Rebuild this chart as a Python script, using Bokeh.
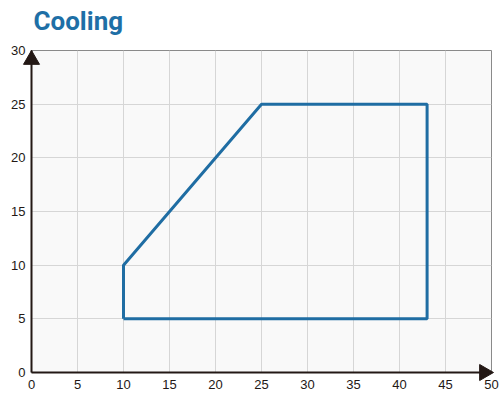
import math
from bokeh.plotting import figure
from bokeh.models import FixedTicker, Range1d
from bokeh.core.properties import value
from bokeh.embed import file_html
from bokeh.resources import INLINE

# data
title_text = "Cooling"
x_vals = [10, 10, 25, 43, 43, 10]
y_vals = [5, 10, 25, 25, 5, 5]
x_ticks = [0, 5, 10, 15, 20, 25, 30, 35, 40, 45, 50]
y_ticks = [0, 5, 10, 15, 20, 25, 30]
x_max = 50
y_max = 30

AXIS = "#231815"
BLUE = "#1f6da3"

W, H = 500, 396
BL, BR, BT, BB = 31, 9, 50, 24

p = figure(width=W, height=H, output_backend="svg", toolbar_location=None,
           x_range=Range1d(0, x_max), y_range=Range1d(0, y_max),
           min_border_left=BL, min_border_right=BR, min_border_top=BT, min_border_bottom=BB)

p.background_fill_color = "#f9f9f9"
p.border_fill_color = "white"
p.outline_line_color = "#8a8a8a"
p.outline_line_width = 1

for ax, ticks in ((p.xaxis, x_ticks), (p.yaxis, y_ticks)):
    ax.ticker = FixedTicker(ticks=ticks)
    ax.major_tick_in = 0
    ax.major_tick_out = 0
    ax.minor_tick_line_color = None
    ax.axis_line_color = AXIS
    ax.axis_line_width = 2
    ax.major_label_text_font = "Liberation Sans"
    ax.major_label_text_font_size = "13px"
    ax.major_label_text_color = "#231815"
p.xaxis.major_label_standoff = 7
p.yaxis.major_label_standoff = 6

p.xgrid.ticker = FixedTicker(ticks=x_ticks)
p.ygrid.ticker = FixedTicker(ticks=y_ticks)
p.grid.grid_line_color = "#d6d6d6"
p.grid.grid_line_width = 1

p.line(x_vals, y_vals, line_color=BLUE, line_width=3)

# chart title above the frame (overlay-level glyph, so not clipped to the frame)
p.text(x=[0], y=[y_max], text=[title_text], x_offset=2, y_offset=-30,
       text_font=value("Roboto"), text_font_size="26px", text_font_style="bold",
       text_color="#1e6fa6", text_baseline="alphabetic", text_align="left",
       level="overlay")

# arrow heads (triangle markers on the overlay level so they are not clipped)
head = 16
tip_dist = head / 2 * math.sqrt(3) * 2 / 3  # centre-to-tip distance in px
px_x = (W - BL - BR) / x_max
px_y = (H - BT - BB) / y_max
p.scatter([0], [y_max - tip_dist / px_y], marker="triangle", size=head,
          fill_color=AXIS, line_color=AXIS, level="overlay")
p.scatter([x_max - (tip_dist - 2) / px_x], [0], marker="triangle", size=head,
          angle=-math.pi / 2, fill_color=AXIS, line_color=AXIS, level="overlay")

open("out.html", "w").write(file_html(p, INLINE))
